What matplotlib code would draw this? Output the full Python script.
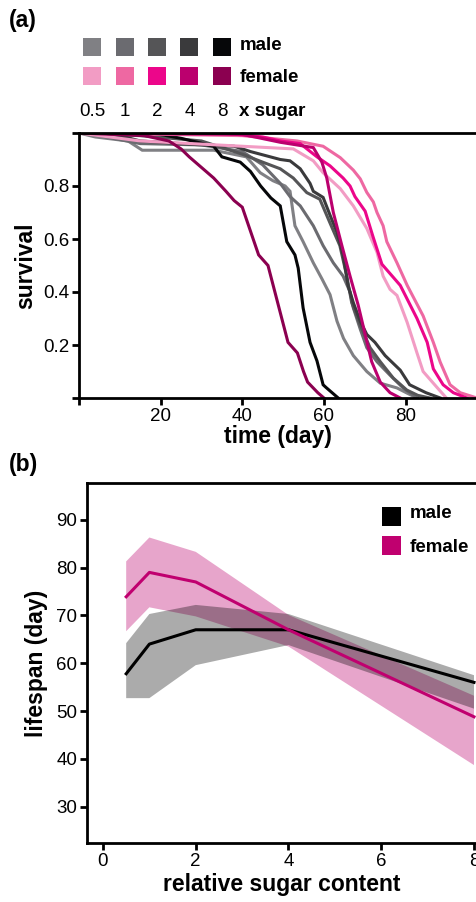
import matplotlib
matplotlib.use("Agg")
import matplotlib.pyplot as plt
from matplotlib.patches import Rectangle

plt.rcParams['font.family'] = ['Liberation Sans', 'DejaVu Sans']

# ---------------- data: panel (a) survival curves ----------------
sugar_labels = ["0.5", "1", "2", "4", "8"]
male_colors = ["#808084", "#6b6b70", "#555557", "#3a3a3c", "#060709"]
female_colors = ["#f29cc4", "#ee68a2", "#ec068a", "#bb006e", "#8b0050"]

male_05_day = [0, 4, 12, 15.5, 33, 41, 44.4, 47.5, 50.5, 51.7, 52.9, 54.9, 57.4, 59.5, 61.5, 63.2, 64.8, 67.2, 70.5, 73.8, 77.9, 80.3, 82.8]
male_05_surv = [1, 0.985, 0.97, 0.935, 0.935, 0.91, 0.85, 0.82, 0.8, 0.78, 0.65, 0.59, 0.51, 0.45, 0.39, 0.29, 0.225, 0.16, 0.1, 0.056, 0.038, 0.019, 0.0]

male_1_day = [0, 5, 15, 30, 40, 45, 49.3, 51.7, 54.2, 57.4, 59.8, 62.3, 64.7, 66.4, 67.2, 68.9, 70.5, 73, 76.2, 79.4, 82.8]
male_1_surv = [1, 0.99, 0.96, 0.955, 0.93, 0.88, 0.81, 0.76, 0.725, 0.65, 0.575, 0.51, 0.46, 0.40, 0.34, 0.26, 0.19, 0.137, 0.086, 0.038, 0.0]

male_2_day = [0, 15, 30, 40, 45, 49.3, 52.5, 55.8, 59, 61.5, 63.9, 65.6, 66.8, 68.9, 71.3, 73.8, 77, 80.3, 83, 86]
male_2_surv = [1, 0.99, 0.97, 0.92, 0.89, 0.865, 0.83, 0.775, 0.75, 0.66, 0.575, 0.46, 0.36, 0.275, 0.19, 0.137, 0.075, 0.03, 0.01, 0]

male_4_day = [0, 10, 15, 30, 38, 42, 49.3, 51.7, 54.2, 56.6, 57.4, 59.8, 61.5, 63.2, 64.7, 65.9, 67.2, 68.9, 70.5, 72.5, 75, 78.7, 81, 85, 88.5]
male_4_surv = [1, 0.99, 0.97, 0.955, 0.95, 0.93, 0.9, 0.895, 0.865, 0.81, 0.78, 0.757, 0.69, 0.625, 0.54, 0.425, 0.36, 0.29, 0.24, 0.21, 0.16, 0.105, 0.05, 0.02, 0]

male_8_day = [0, 18, 25, 33, 35, 39.5, 42, 44.5, 47, 49.3, 50.9, 52.9, 53.7, 54.9, 56.6, 58.3, 59.8, 60.5, 63.5]
male_8_surv = [1, 1, 0.98, 0.95, 0.91, 0.89, 0.855, 0.8, 0.755, 0.725, 0.59, 0.54, 0.49, 0.34, 0.21, 0.14, 0.05, 0.04, 0]

female_05_day = [0, 10, 15, 40, 52.5, 57.4, 59.8, 64, 67.2, 70.5, 73, 74.5, 76.2, 77.9, 80.4, 82.8, 84.3, 87.7, 90]
female_05_surv = [1, 0.98, 0.97, 0.95, 0.94, 0.895, 0.85, 0.79, 0.725, 0.64, 0.55, 0.46, 0.41, 0.387, 0.285, 0.17, 0.1, 0.04, 0]

female_1_day = [0, 40, 53.4, 59.8, 64, 67.2, 68.9, 70.5, 72.1, 73, 74.5, 75.4, 77.9, 80.4, 84.3, 86.8, 88.5, 90.9, 93.4, 97.5]
female_1_surv = [1, 0.99, 0.97, 0.95, 0.907, 0.86, 0.827, 0.776, 0.74, 0.70, 0.65, 0.59, 0.51, 0.425, 0.31, 0.21, 0.135, 0.05, 0.02, 0]

female_2_day = [0, 35, 45, 49.3, 54.2, 58.3, 61.5, 64.7, 66.4, 67.6, 70.1, 72, 74.2, 78.7, 82.8, 85.3, 86.8, 89.2, 91.7, 95]
female_2_surv = [1, 1, 0.985, 0.97, 0.96, 0.91, 0.876, 0.83, 0.80, 0.76, 0.705, 0.61, 0.505, 0.425, 0.30, 0.21, 0.11, 0.05, 0.02, 0]

female_4_day = [0, 40, 49.3, 57.4, 59.5, 60.7, 62.3, 64.4, 66.4, 68.4, 70.1, 71.7, 73.8, 76.2, 78.7]
female_4_surv = [1, 0.995, 0.965, 0.945, 0.89, 0.83, 0.70, 0.575, 0.46, 0.35, 0.24, 0.137, 0.06, 0.02, 0]

female_8_day = [0, 16, 22, 25, 27, 30, 33, 36, 38, 40, 42, 44, 46.3, 51.2, 53.5, 55, 56, 58.5, 60]
female_8_surv = [1, 0.99, 0.97, 0.94, 0.91, 0.87, 0.83, 0.78, 0.745, 0.72, 0.63, 0.54, 0.5, 0.21, 0.17, 0.1, 0.06, 0.02, 0]

# ---------------- data: panel (b) lifespan ----------------
sugar = [0.5, 1, 2, 4, 8]
male_lifespan = [57.8, 64, 67, 67, 56]
male_upper = [64.2, 70.3, 72.2, 70.3, 57.5]
male_lower = [52.7, 52.7, 59.6, 63.8, 50.5]
female_lifespan = [73.9, 79, 77, 67, 48.8]
female_upper = [81.3, 86.3, 83.3, 70.1, 53.2]
female_lower = [66.7, 71.7, 69.8, 63.5, 38.7]

# ---------------- figure ----------------
W, H = 477, 902
fig = plt.figure(figsize=(W / 100, H / 100), dpi=100)


def fx(px):
    return px / W


def fy(py):
    return 1 - py / H


TICK_FS = 13.5
LAB_FS = 16.5
LW_SPINE = 2.0

# Panel (a)
axa = fig.add_axes([fx(79), fy(398), fx(477) - fx(79), (398 - 133) / H])
male_sets = [(male_05_day, male_05_surv), (male_1_day, male_1_surv), (male_2_day, male_2_surv),
             (male_4_day, male_4_surv), (male_8_day, male_8_surv)]
female_sets = [(female_05_day, female_05_surv), (female_1_day, female_1_surv), (female_2_day, female_2_surv),
               (female_4_day, female_4_surv), (female_8_day, female_8_surv)]
for (d, s), c in zip(male_sets, male_colors):
    axa.plot(d, s, color=c, lw=2.2, solid_joinstyle='miter')
for (d, s), c in zip(female_sets, female_colors):
    axa.plot(d, s, color=c, lw=2.2, solid_joinstyle='miter')
axa.set_xlim(0, 97.5)
axa.set_ylim(0, 1)
axa.set_xticks([0, 20, 40, 60, 80])
axa.set_xticklabels(["", "20", "40", "60", "80"])
axa.set_yticks([0, 0.2, 0.4, 0.6, 0.8, 1.0])
axa.set_yticklabels(["", "0.2", "0.4", "0.6", "0.8", ""])
axa.spines['right'].set_visible(False)
for sp in ['left', 'bottom', 'top']:
    axa.spines[sp].set_linewidth(LW_SPINE)
axa.tick_params(direction='out', length=5, width=2, labelsize=TICK_FS, pad=2)
axa.set_xlabel("time (day)", fontsize=LAB_FS, fontweight='bold', labelpad=0)
axa.set_ylabel("survival", fontsize=LAB_FS, fontweight='bold', labelpad=4)

# Legend grid for panel (a)
col_x = [92.5, 125, 157.5, 189.5, 222]
sq = 18
for cx, mc, fc, lab in zip(col_x, male_colors, female_colors, sugar_labels):
    fig.patches.append(Rectangle((fx(cx - sq / 2), fy(47 + sq / 2)), sq / W, sq / H,
                                 transform=fig.transFigure, facecolor=mc, edgecolor='none'))
    fig.patches.append(Rectangle((fx(cx - sq / 2), fy(76 + sq / 2)), sq / W, sq / H,
                                 transform=fig.transFigure, facecolor=fc, edgecolor='none'))
    fig.text(fx(cx), fy(111), lab, fontsize=TICK_FS, ha='center', va='center')
fig.text(fx(240), fy(45), "male", fontsize=TICK_FS, fontweight='bold', ha='left', va='center')
fig.text(fx(240), fy(78), "female", fontsize=TICK_FS, fontweight='bold', ha='left', va='center')
fig.text(fx(239), fy(111), "x sugar", fontsize=TICK_FS, fontweight='bold', ha='left', va='center')

fig.text(fx(9), fy(21), "(a)", fontsize=LAB_FS, fontweight='bold', ha='left', va='center')
fig.text(fx(9), fy(465), "(b)", fontsize=LAB_FS, fontweight='bold', ha='left', va='center')

# Panel (b)
axb = fig.add_axes([fx(87), fy(843), fx(477) - fx(87), (843 - 483) / H])
axb.fill_between(sugar, female_lower, female_upper, facecolor='#e7a5cb', edgecolor='none', zorder=1)
axb.fill_between(sugar, male_lower, male_upper, facecolor='black', alpha=0.33, edgecolor='none', zorder=2)
axb.plot(sugar, male_lifespan, color='black', lw=2.2, zorder=3)
axb.plot(sugar, female_lifespan, color='#c0006f', lw=2.2, zorder=4)
axb.set_xlim(-0.345, 8.065)
axb.set_ylim(22.4, 97.7)
axb.set_xticks([0, 2, 4, 6, 8])
axb.set_yticks([30, 40, 50, 60, 70, 80, 90])
axb.spines['right'].set_visible(False)
for sp in ['left', 'bottom', 'top']:
    axb.spines[sp].set_linewidth(LW_SPINE)
axb.tick_params(direction='out', length=5, width=2, labelsize=TICK_FS, pad=2)
axb.set_xlabel("relative sugar content", fontsize=LAB_FS, fontweight='bold', labelpad=2)
axb.set_ylabel("lifespan (day)", fontsize=LAB_FS, fontweight='bold', labelpad=6)

# Legend panel (b)
fig.patches.append(Rectangle((fx(382), fy(526)), 19 / W, 19 / H, transform=fig.transFigure,
                             facecolor='black', edgecolor='none'))
fig.patches.append(Rectangle((fx(382), fy(555)), 19 / W, 19 / H, transform=fig.transFigure,
                             facecolor='#c0006f', edgecolor='none'))
fig.text(fx(410), fy(513), "male", fontsize=TICK_FS, fontweight='bold', ha='left', va='center')
fig.text(fx(410), fy(548), "female", fontsize=TICK_FS, fontweight='bold', ha='left', va='center')

fig.savefig("out.png", dpi=100)
